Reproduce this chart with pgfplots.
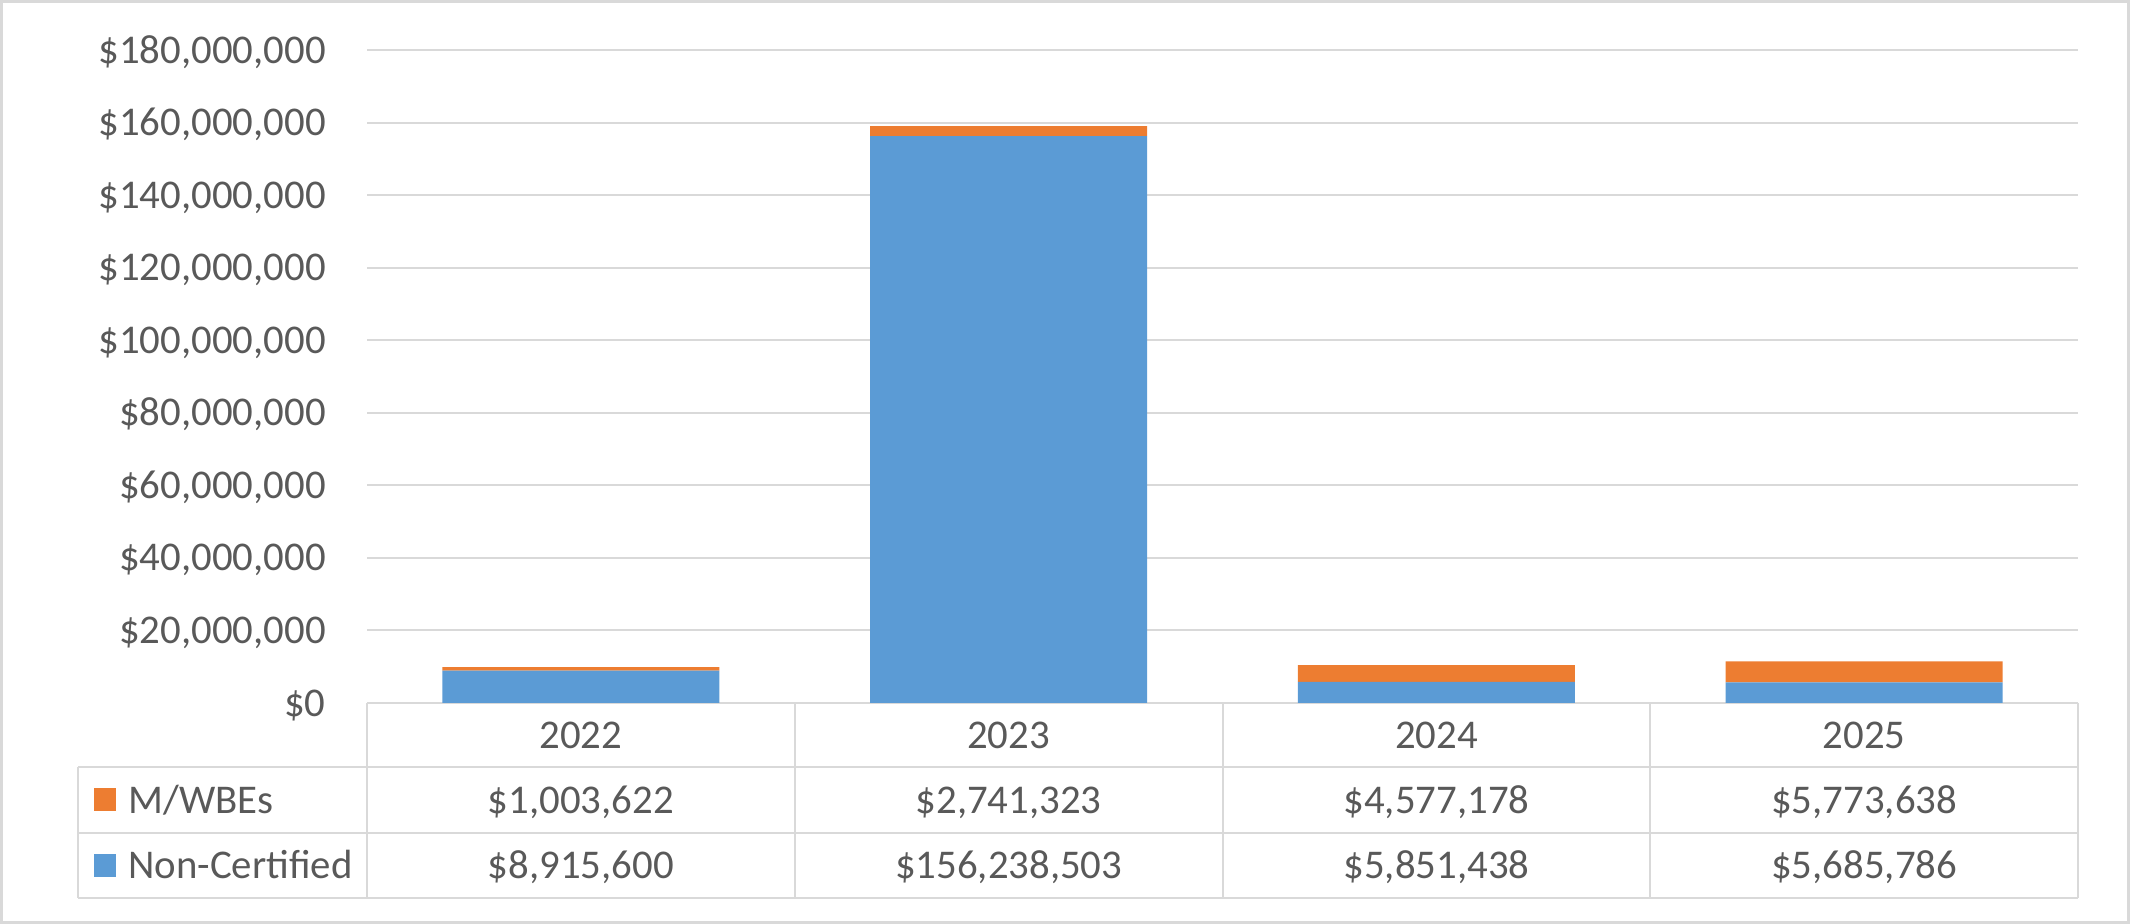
\documentclass[border=0pt]{standalone}
\usepackage{pgfplots}
\pgfplotsset{compat=1.18}
\usepackage{fontspec}
\setmainfont{Carlito}
\definecolor{txt}{HTML}{595959}
\definecolor{gridc}{HTML}{D9D9D9}
\definecolor{cblue}{HTML}{5B9BD5}
\definecolor{corange}{HTML}{ED7D31}
\begin{document}
\fontsize{20.4pt}{24pt}\selectfont
\begin{tikzpicture}[x=1pt,y=1pt]
\useasboundingbox (0,0) rectangle (1065,462);
\draw[gridc, line width=1.5pt] (0.75,0.75) rectangle (1064.25,461.25);
\begin{axis}[
  at={(183.5pt,110.5pt)}, anchor=south west,
  width=855.5pt, height=326.5pt, scale only axis,
  ybar stacked, bar width=138.5pt,
  xmin=-0.5, xmax=3.5, ymin=0, ymax=180000000,
  enlargelimits=false, clip=false,
  axis line style={draw=none},
  xtick=\empty,
  ytick={0,20000000,40000000,60000000,80000000,100000000,120000000,140000000,160000000,180000000},
  yticklabels={{\$0},{\$20,000,000},{\$40,000,000},{\$60,000,000},{\$80,000,000},{\$100,000,000},{\$120,000,000},{\$140,000,000},{\$160,000,000},{\$180,000,000}},
  scaled y ticks=false,
  ymajorgrids, grid style={gridc, line width=1pt},
  major tick length=0pt,
  yticklabel style={text=txt, font=\fontsize{20.4pt}{24pt}\selectfont, inner sep=0pt, anchor=east, xshift=-20.5pt, text height=0.64em, text depth=0pt},
]
\addplot[fill=cblue, draw=none] coordinates {(0,8915600) (1,156238503) (2,5851438) (3,5685786)};
\addplot[fill=corange, draw=none] coordinates {(0,1003622) (1,2741323) (2,4577178) (3,5773638)};
% table grid
\draw[gridc, line width=1pt] (axis cs:-0.5,0) -- (axis cs:3.5,0);
\pgfplotsinvokeforeach{-0.5,0.5,1.5,2.5,3.5}{
  \draw[gridc, line width=1pt] (axis cs:#1,0) -- ++(0pt,-97.5pt);
}
\tikzset{cell/.style={text=txt, anchor=center, text height=0.64em, text depth=0pt, inner sep=0pt}}
\node[cell] at (axis cs:0,0) [yshift=-16pt] {2022};
\node[cell] at (axis cs:1,0) [yshift=-16pt] {2023};
\node[cell] at (axis cs:2,0) [yshift=-16pt] {2024};
\node[cell] at (axis cs:3,0) [yshift=-16pt] {2025};
\node[cell] at (axis cs:0,0) [yshift=-48.5pt] {\$1,003,622};
\node[cell] at (axis cs:1,0) [yshift=-48.5pt] {\$2,741,323};
\node[cell] at (axis cs:2,0) [yshift=-48.5pt] {\$4,577,178};
\node[cell] at (axis cs:3,0) [yshift=-48.5pt] {\$5,773,638};
\node[cell] at (axis cs:0,0) [yshift=-81.25pt] {\$8,915,600};
\node[cell] at (axis cs:1,0) [yshift=-81.25pt] {\$156,238,503};
\node[cell] at (axis cs:2,0) [yshift=-81.25pt] {\$5,851,438};
\node[cell] at (axis cs:3,0) [yshift=-81.25pt] {\$5,685,786};
\end{axis}
\draw[gridc, line width=1pt] (39,78.5) -- (1039,78.5);
\draw[gridc, line width=1pt] (39,45.5) -- (1039,45.5);
\draw[gridc, line width=1pt] (39,13) -- (1039,13);
\draw[gridc, line width=1pt] (39,78.5) -- (39,13);
\fill[corange] (47,56.5) rectangle (58,68);
\fill[cblue] (47,23.5) rectangle (58,35);
\node[text=txt, anchor=west, text height=0.64em, text depth=0pt, inner sep=0pt] at (64,62) {M/WBEs};
\node[text=txt, anchor=west, text height=0.64em, text depth=0pt, inner sep=0pt] at (64,29.25) {Non-Certified};
\end{tikzpicture}
\end{document}
